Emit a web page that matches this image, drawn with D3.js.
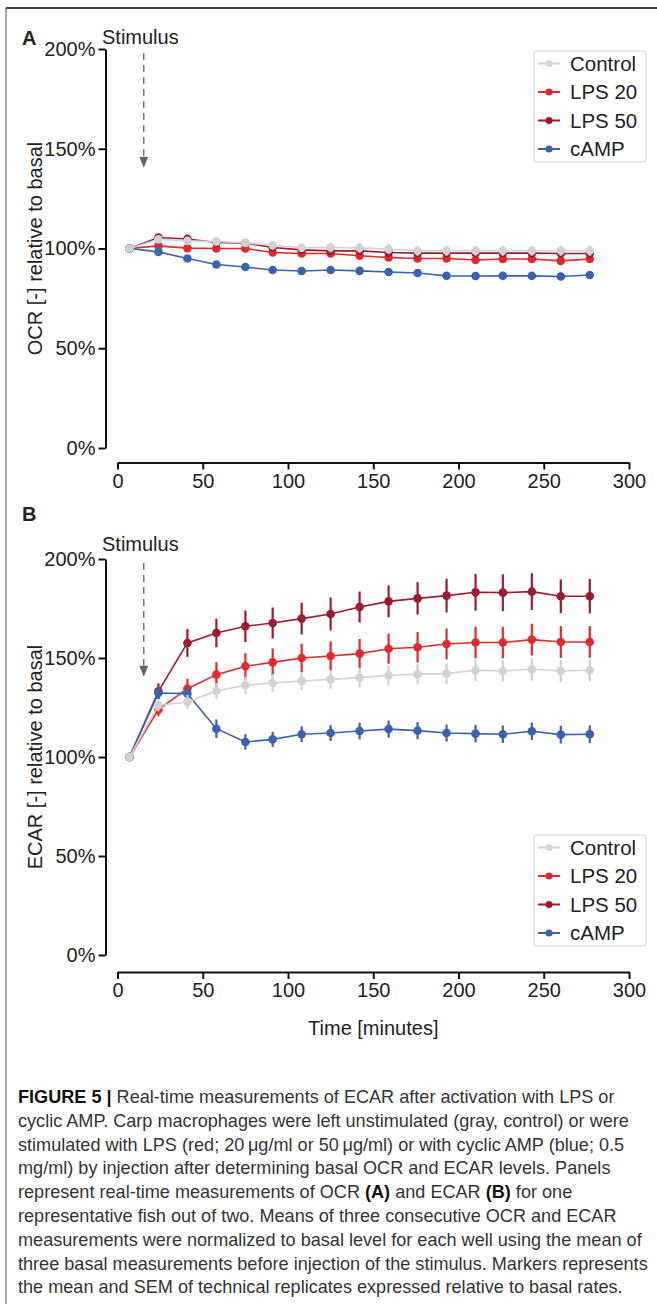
<!DOCTYPE html>
<html>
<head>
<meta charset="utf-8">
<script src="https://cdn.jsdelivr.net/npm/d3@7"></script>
<style>
  html, body { margin: 0; padding: 0; background: #fff; }
  svg { display: block; font-family: "Liberation Sans", Arial, sans-serif; }
</style>
</head>
<body>
<div id="chart"></div>
<script>
// time points (minutes)
const times = [7, 24, 41, 58, 75, 91, 108, 125, 142, 159, 176, 193, 210, 226, 243, 260, 277];
const stimulusTime = 15.4;

const seriesNames = ['Control', 'LPS 20', 'LPS 50', 'cAMP'];
const seriesColors = ['#d1d2d4', '#e3282e', '#9c1b31', '#3a63ad'];

// panel A: OCR relative to basal (%)
const ocrControl = [100, 104.6, 103.8, 103.5, 102.8, 101.6, 100.4, 100.5, 100.3, 99.7, 98.9, 98.9, 98.9, 98.9, 98.9, 98.9, 98.9];
const ocrLps20   = [100, 101.3, 100.2, 100, 100, 98, 97.5, 97.5, 96.4, 95.5, 95, 95, 94.2, 94.7, 94.7, 93.8, 94.7];
const ocrLps50   = [100, 105.5, 104.8, 103, 102.7, 100.5, 99.3, 98.8, 98.8, 98, 97.7, 97.7, 97.7, 97.7, 97.7, 97.5, 97.5];
const ocrCamp    = [100, 98.3, 95, 92, 90.7, 89.2, 88.7, 89.2, 88.8, 88.2, 87.7, 86.3, 86.2, 86.3, 86.3, 86, 86.7];
const ocrSemControl = [0, 2, 2, 2, 2, 2.2, 2.2, 2.4, 2.4, 2.5, 2.5, 2.5, 2.5, 2.5, 2.5, 2.6, 2.6];
const ocrSemLps20   = [0, 1.2, 1.3, 1.3, 1.4, 1.5, 1.5, 1.5, 1.6, 1.7, 1.7, 1.8, 1.8, 1.8, 1.8, 1.9, 1.9];
const ocrSemLps50   = [0, 1, 1, 1, 1, 1.1, 1.1, 1.1, 1.2, 1.2, 1.2, 1.3, 1.3, 1.3, 1.3, 1.3, 1.3];
const ocrSemCamp    = [0, 0.8, 0.8, 0.8, 0.9, 0.9, 0.9, 1, 1, 1, 1, 1, 1, 1, 1, 1, 1];

// panel B: ECAR relative to basal (%)
const ecarControl = [100, 126.1, 127.8, 133.3, 136.2, 137.4, 138.4, 139.2, 140.1, 141.3, 141.8, 142.1, 143.8, 143.4, 144.3, 143.4, 143.8];
const ecarLps20   = [100, 123.9, 134.5, 141.6, 145.8, 147.8, 150, 151, 152.2, 154.7, 155.4, 157.1, 157.8, 157.8, 159.3, 158.1, 158.1];
const ecarLps50   = [100, 133.2, 157.6, 162.6, 166, 167.7, 169.9, 172.2, 175.8, 178.6, 180.1, 181.5, 183.2, 183, 183.5, 181.2, 181.2];
const ecarCamp    = [100, 132.3, 132, 114.3, 107.6, 108.9, 111.5, 112.1, 113.1, 114.1, 113.3, 112.1, 111.8, 111.5, 113, 111.3, 111.5];
const ecarSemControl = [0, 3, 3.5, 4, 4.3, 4.5, 4.6, 4.8, 5, 5.1, 5.2, 5.3, 5.5, 5.5, 5.7, 5.6, 5.7];
const ecarSemLps20   = [0, 3.4, 5, 6.3, 6.6, 7, 7.2, 7.3, 7.4, 7.6, 7.7, 7.8, 8, 8, 8, 8, 8];
const ecarSemLps50   = [0, 4, 7, 7.2, 8, 7.8, 8, 8.3, 7.8, 8, 8.2, 8.5, 9.3, 9.3, 9.3, 8.5, 8.7];
const ecarSemCamp    = [0, 3, 3.2, 4.7, 3.9, 3.8, 4, 4, 4.2, 4.3, 4.3, 4.3, 4.4, 4.4, 4.4, 4.5, 4.5];

const yTicks = [0, 50, 100, 150, 200];
const xTicks = [0, 50, 100, 150, 200, 250, 300];

const captionLines = [
  [['FIGURE 5 | ', true], ['Real-time measurements of ECAR after activation with LPS or', false]],
  [['cyclic AMP. Carp macrophages were left unstimulated (gray, control) or were', false]],
  [['stimulated with LPS (red; 20\u2009\u03bcg/ml or 50\u2009\u03bcg/ml) or with cyclic AMP (blue; 0.5', false]],
  [['mg/ml) by injection after determining basal OCR and ECAR levels. Panels', false]],
  [['represent real-time measurements of OCR ', false], ['(A)', true], [' and ECAR ', false], ['(B)', true], [' for one', false]],
  [['representative fish out of two. Means of three consecutive OCR and ECAR', false]],
  [['measurements were normalized to basal level for each well using the mean of', false]],
  [['three basal measurements before injection of the stimulus. Markers represents', false]],
  [['the mean and SEM of technical replicates expressed relative to basal rates.', false]]
];

const W = 657, H = 1304;
const svg = d3.select('#chart').append('svg').attr('width', W).attr('height', H);

// frame
svg.append('line').attr('x1', 6).attr('x2', 6).attr('y1', 8).attr('y2', H)
  .attr('stroke', '#8a8a8a').attr('stroke-width', 1.5);
svg.append('line').attr('x1', 6).attr('x2', W).attr('y1', 8).attr('y2', 8)
  .attr('stroke', '#444').attr('stroke-width', 2);

const x = d3.scaleLinear().domain([0, 300]).range([117.5, 629]);

function drawPanel(cfg) {
  const g = svg.append('g');
  const y = d3.scaleLinear().domain([0, 200]).range([cfg.y0, cfg.y200]);

  // y axis
  const ya = g.append('g').attr('transform', 'translate(105.5,0)')
    .call(d3.axisLeft(y).tickValues(yTicks).tickFormat(d => d + '%').tickSize(7).tickSizeOuter(0).tickPadding(3));
  // x axis
  const xa = g.append('g').attr('transform', `translate(0,${cfg.xAxisY})`)
    .call(d3.axisBottom(x).tickValues(xTicks).tickSize(7).tickSizeOuter(0).tickPadding(4));
  [ya, xa].forEach(a => {
    a.select('.domain').attr('stroke', '#111').attr('stroke-width', 2);
    a.selectAll('.tick line').attr('stroke', '#111').attr('stroke-width', 2);
    a.selectAll('.tick text').attr('font-size', 20).attr('fill', '#222')
      .attr('font-family', '"Liberation Sans", Arial, sans-serif');
  });

  // panel letter
  g.append('text').attr('x', 22).attr('y', cfg.letterY).attr('font-size', 20)
    .attr('font-weight', 'bold').attr('fill', '#222').text(cfg.letter);

  // y title
  g.append('text')
    .attr('transform', `translate(42,${y(100)}) rotate(-90)`)
    .attr('text-anchor', 'middle').attr('font-size', 20).attr('fill', '#222')
    .text(cfg.yTitle);

  // stimulus annotation
  g.append('text').attr('x', 102).attr('y', cfg.stimY).attr('font-size', 20)
    .attr('fill', '#222').text('Stimulus');
  const ax = x(stimulusTime);
  const yTop = y(198), yTip = y(140.5);
  g.append('line').attr('x1', ax).attr('x2', ax).attr('y1', yTop).attr('y2', yTip - 9)
    .attr('stroke', '#777').attr('stroke-width', 1.5).attr('stroke-dasharray', '7,5');
  g.append('path')
    .attr('d', `M${ax - 4.5},${yTip - 11} L${ax + 4.5},${yTip - 11} L${ax},${yTip} Z`)
    .attr('fill', '#666');

  // series
  const order = [1, 2, 3, 0];
  order.forEach(i => {
    const vals = cfg.values[i];
    const sem = cfg.sems[i];
    const col = seriesColors[i];
    const sg = g.append('g');
    const line = d3.line().x((d, k) => x(times[k])).y(d => y(d));
    sg.append('path').datum(vals).attr('fill', 'none').attr('stroke', col)
      .attr('stroke-width', 1.6).attr('d', line);
    sg.selectAll('line.err').data(vals).enter().append('line').attr('class', 'err')
      .attr('x1', (d, k) => x(times[k])).attr('x2', (d, k) => x(times[k]))
      .attr('y1', (d, k) => y(d - sem[k])).attr('y2', (d, k) => y(d + sem[k]))
      .attr('stroke', col).attr('stroke-width', 2.2);
    sg.selectAll('circle').data(vals).enter().append('circle')
      .attr('cx', (d, k) => x(times[k])).attr('cy', d => y(d)).attr('r', 4.3)
      .attr('fill', col);
  });

  // legend
  const lg = g.append('g').attr('transform', `translate(534,${cfg.legendY})`);
  lg.append('rect').attr('width', 112).attr('height', 111).attr('rx', 3)
    .attr('fill', '#fff').attr('stroke', '#d6d6d6').attr('stroke-width', 1.2);
  seriesNames.forEach((name, i) => {
    const ly = 12.5 + i * 28.5;
    lg.append('line').attr('x1', 4).attr('x2', 26).attr('y1', ly).attr('y2', ly)
      .attr('stroke', seriesColors[i]).attr('stroke-width', 2);
    lg.append('circle').attr('cx', 15).attr('cy', ly).attr('r', 3.6).attr('fill', seriesColors[i]);
    lg.append('text').attr('x', 36).attr('y', ly).attr('dy', '0.36em')
      .attr('font-size', 20.5).attr('fill', '#222').text(name);
  });
}

drawPanel({
  letter: 'A', letterY: 45, stimY: 44,
  y0: 448, y200: 49, xAxisY: 462.5,
  yTitle: 'OCR [-] relative to basal',
  legendY: 51,
  values: [ocrControl, ocrLps20, ocrLps50, ocrCamp],
  sems: [ocrSemControl, ocrSemLps20, ocrSemLps50, ocrSemCamp]
});

drawPanel({
  letter: 'B', letterY: 521, stimY: 551,
  y0: 955, y200: 559, xAxisY: 972,
  yTitle: 'ECAR [-] relative to basal',
  legendY: 835,
  values: [ecarControl, ecarLps20, ecarLps50, ecarCamp],
  sems: [ecarSemControl, ecarSemLps20, ecarSemLps50, ecarSemCamp]
});

svg.append('text').attr('x', x(150)).attr('y', 1035).attr('text-anchor', 'middle')
  .attr('font-size', 20).attr('fill', '#222').text('Time [minutes]');

// caption
const cap = svg.append('g');
const capText = cap.append('text').attr('font-size', 17.5).attr('fill', '#333');
captionLines.forEach((parts, i) => {
  const t = capText.append('tspan').attr('x', 18).attr('y', 1103 + i * 23.8);
  parts.forEach(([s, bold]) => {
    t.append('tspan').attr('font-weight', bold ? 'bold' : null)
      .attr('fill', bold ? '#111' : null).text(s);
  });
});
// squeeze the caption horizontally to the reference line width
let widest = 0;
capText.selectAll(':scope > tspan').each(function () {
  widest = Math.max(widest, this.getComputedTextLength());
});
const sx = widest > 0 ? 630 / widest : 1;
cap.attr('transform', `translate(18,0) scale(${sx},1) translate(-18,0)`);
</script>
</body>
</html>
